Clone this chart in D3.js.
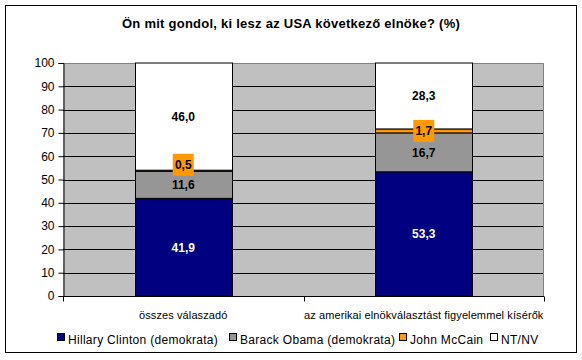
<!DOCTYPE html>
<html>
<head>
<meta charset="utf-8">
<script src="https://cdn.jsdelivr.net/npm/d3@7"></script>
<style>
body{margin:0;background:#fff;}
svg{display:block;font-family:"Liberation Sans",Arial,sans-serif;}
</style>
</head>
<body>
<svg id="chart" width="582" height="360"></svg>
<script>
const title = "Ön mit gondol, ki lesz az USA következő elnöke? (%)";
const categories = ["összes válaszadó", "az amerikai elnökválasztást figyelemmel kísérők"];
const seriesNames = ["Hillary Clinton (demokrata)", "Barack Obama (demokrata)", "John McCain", "NT/NV"];
const clinton = [41.9, 53.3];
const obama = [11.6, 16.7];
const mccain = [0.5, 1.7];
const ntnv = [46.0, 28.3];
const yTicks = [0,10,20,30,40,50,60,70,80,90,100];
const colors = ["#000080", "#969696", "#FF9900", "#FFFFFF"];
const labelColors = ["#FFFFFF", "#000000", "#000000", "#000000"];

const series = [clinton, obama, mccain, ntnv];
const rows = categories.map((c, i) => {
  const r = {cat: c};
  seriesNames.forEach((s, j) => r[s] = series[j][i]);
  return r;
});
const stacked = d3.stack().keys(seriesNames)(rows);

const svg = d3.select("#chart");
const plot = {left: 63, right: 544, top: 63, bottom: 296};

// outer border
svg.append("rect").attr("x", 5.5).attr("y", 5.5).attr("width", 571).attr("height", 347)
  .attr("fill", "#fff").attr("stroke", "#000").attr("stroke-width", 1);

svg.append("text").attr("x", 291).attr("y", 28).attr("text-anchor", "middle")
  .attr("font-size", 13).attr("font-weight", "bold").attr("letter-spacing", 0.25).text(title);

const xCat = d3.scaleBand().domain(categories).range([plot.left, plot.right]);
const y = d3.scaleLinear().domain([0, 100]).range([plot.bottom, plot.top]);

// plot background
svg.append("rect").attr("x", plot.left).attr("y", plot.top)
  .attr("width", plot.right - plot.left).attr("height", plot.bottom - plot.top)
  .attr("fill", "#C0C0C0");
svg.append("path")
  .attr("d", `M${plot.left},${plot.top + 0.5}H${plot.right - 0.5}V${plot.bottom}`)
  .attr("fill", "none").attr("stroke", "#808080").attr("stroke-width", 1);

// gridlines
svg.append("g").selectAll("line").data(yTicks.filter(t => t > 0 && t < 100)).join("line")
  .attr("x1", plot.left).attr("x2", plot.right - 1)
  .attr("y1", d => Math.round(y(d)) + 0.5).attr("y2", d => Math.round(y(d)) + 0.5)
  .attr("stroke", "#000").attr("stroke-width", 1);

// bars
const g = svg.append("g");
stacked.forEach((layer, j) => {
  g.selectAll(null).data(layer).join("rect")
    .attr("x", (d, i) => Math.round(xCat(categories[i]) + xCat.bandwidth() / 2 - 48.5) + 0.5)
    .attr("width", 97)
    .attr("y", d => y(d[1]))
    .attr("height", d => y(d[0]) - y(d[1]))
    .attr("fill", colors[j]).attr("stroke", "#000").attr("stroke-width", 1);
});

// labels (small McCain label in first bar nudged up to avoid overlap, as in the original)
stacked.forEach((layer, j) => {
  layer.forEach((d, i) => {
    const cx = xCat(categories[i]) + xCat.bandwidth() / 2;
    let cy = y((d[0] + d[1]) / 2);
    if (j === 2 && (d[1] - d[0]) < 1) cy -= 6;
    const txt = d3.format(".1f")(d[1] - d[0]).replace(".", ",");
    if (j === 2) {
      svg.append("rect").attr("x", cx - 10.5).attr("y", cy - 11).attr("width", 21).attr("height", 22)
        .attr("fill", colors[2]);
    }
    svg.append("text").attr("x", cx).attr("y", cy + 4.5).attr("text-anchor", "middle")
      .attr("font-size", 12).attr("font-weight", "bold").attr("fill", labelColors[j]).text(txt);
  });
});

// y axis
const yAxis = svg.append("g").attr("transform", `translate(${plot.left + 0.5},0)`)
  .call(d3.axisLeft(y).tickValues(yTicks).tickSize(5).tickPadding(4).tickFormat(d3.format("d")));
yAxis.select(".domain").attr("stroke", "#000");
yAxis.selectAll("line").attr("stroke", "#000");
yAxis.selectAll("text").attr("font-size", 12).attr("font-family", "Liberation Sans, Arial, sans-serif").attr("fill", "#000");

// x axis
const xa = svg.append("g").attr("transform", `translate(0,${plot.bottom + 0.5})`);
xa.append("line").attr("x1", plot.left).attr("x2", plot.right).attr("stroke", "#000");
const bounds = [plot.left, ...categories.map(c => xCat(c) + xCat.bandwidth())];
xa.selectAll(".tk").data(bounds).join("line")
  .attr("x1", d => Math.round(d) + 0.5).attr("x2", d => Math.round(d) + 0.5)
  .attr("y1", 0).attr("y2", 5).attr("stroke", "#000");
xa.selectAll(".lb").data(categories).join("text")
  .attr("x", d => xCat(d) + xCat.bandwidth() / 2).attr("y", 22)
  .attr("text-anchor", "middle").attr("font-size", 11).attr("letter-spacing", 0.1).text(d => d);

// legend
const legend = svg.append("g").attr("transform", "translate(0,340)");
const legendX = [57, 229, 399, 490];
seriesNames.forEach((s, j) => {
  legend.append("rect").attr("x", legendX[j] + 0.5).attr("y", -6.5).attr("width", 7).attr("height", 7)
    .attr("fill", colors[j]).attr("stroke", "#000");
  legend.append("text").attr("x", legendX[j] + 11).attr("y", 4).attr("font-size", 12)
    .attr("letter-spacing", 0.3).text(s);
});
</script>
</body>
</html>
